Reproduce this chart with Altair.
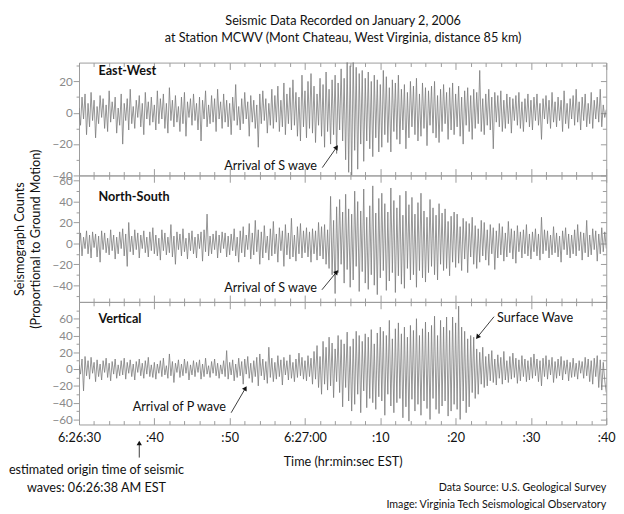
import json
import math
import altair as alt
import pandas as pd

# ---------------- data (0.2 s sampling) ----------------
DT = 0.2
EW = [
    3, -8, 10, -4, 12, -14, 6, -9, 13, -5,
    8, -16, 4, -7, 11, -3, 9, -10, 5, -12,
    14, -6, 7, -4, 10, -13, 3, -8, 12, -20,
    6, -5, 9, -11, 15, -7, 4, -10, 8, -3,
    11, -9, 6, -14, 13, -4, 7, -8, 10, -6,
    5, -11, 14, -7, 9, -4, 12, -10, 6, -13,
    16, -5, 8, -9, 11, -6, 4, -12, 10, -7,
    13, -15, 7, -3, 9, -8, 12, -5, 6, -11,
    10, -18, 8, -4, 14, -9, 5, -7, 11, -6,
    9, -12, 15, -4, 7, -10, 12, -6, 8, -9,
    6, -14, 10, -5, 18, -8, 4, -11, 9, -7,
    13, -4, 7, -15, 11, -6, 8, -10, 5, -22,
    12, -7, 14, -5, 9, -13, 6, -8, 15, -10,
    11, -6, 17, -12, 8, -9, 19, -14, 12, -7,
    16, -11, 21, -8, 13, -15, 10, -18, 24, -9,
    14, -16, 20, -10, 25, -13, 17, -19, 12, -8,
    22, -15, 18, -22, 26, -12, 15, -20, 21, -14,
    24, -26, 19, -11, 28, -18, 22, -30, 33, -38,
    30, -40, 35, -24, 29, -36, 25, -20, 27, -31,
    22, -18, 26, -23, 20, -28, 24, -16, 21, -25,
    18, -22, 27, -14, 23, -19, 16, -25, 21, -12,
    19, -17, 24, -20, 15, -11, 18, -23, 13, -16,
    20, -9, 17, -14, 22, -18, 12, -15, 19, -10,
    16, -21, 14, -8, 17, -13, 20, -16, 11, -19,
    15, -12, 18, -7, 13, -17, 16, -11, 19, -14,
    12, -9, 17, -15, 10, -20, 14, -8, 16, -12,
    11, -17, 15, -10, 13, -7, 27, -12, 9, -14,
    12, -8, 15, -11, 10, -23, 13, -6, 11, -9,
    14, -12, 8, -10, 12, -7, 10, -13, 9, -5,
    11, -8, 13, -10, 7, -12, 9, -6, 12, -9,
    8, -11, 10, -5, 12, -8, 6, -17, 9, -4,
    11, -7, 8, -10, 13, -6, 7, -9, 10, -5,
    8, -12, 14, -7, 6, -10, 9, -4, 11, -8,
    15, -6, 7, -11, 10, -5, 12, -9, 6, -7,
    13, -10, 8, -4, 10, -6, 15, -9, 5, -3,
    2,
]
NS = [
    -8, 10, -12, 6, -5, 12, -10, 8, -14, 11,
    -4, 9, -13, 7, -18, 12, -6, 10, -9, 5,
    -11, 13, -7, 8, -15, 6, -10, 11, -5, 14,
    -12, 9, -22, 20, -8, 7, -11, 13, -6, 10,
    -14, 8, -5, 12, -9, 6, -13, 11, -7, 15,
    -10, 8, -12, 5, -16, 13, -7, 10, -11, 6,
    -9, 18, -13, 7, -20, 11, -6, 9, -12, 14,
    -8, 5, -15, 10, -7, 12, -10, 6, -14, 9,
    -5, 11, -17, 13, -8, 28, -12, 7, -10, 9,
    -6, 12, -14, 8, -9, 11, -5, 10, -13, 7,
    -11, 9, -7, 14, -12, 6, -18, 12, -9, 16,
    -13, 8, -6, 19, -15, 10, -11, 22, -8, 13,
    -20, 11, -14, 17, -9, 7, -16, 14, -12, 21,
    -10, 9, -18, 15, -7, 12, -22, 18, -11, 10,
    -15, 24, -13, 8, -17, 16, -10, 19, -14, 12,
    -9, 15, -13, 11, -18, 14, -10, 12, -16, 20,
    -12, 16, -15, 18, -20, 13, -24, 45, -30, 22,
    -48, 35, -28, 42, -20, 30, -38, 47, -25, 33,
    -42, 28, -35, 50, -22, 40, -46, 31, -27, 52,
    -38, 25, -44, 36, -30, 55, -40, 29, -49, 43,
    -33, 48, -26, 38, -45, 30, -36, 53, -28, 41,
    -47, 34, -31, 46, -39, 27, -43, 50, -24, 37,
    -35, 44, -30, 28, -42, 39, -26, 48, -33, 31,
    -37, 25, -28, 42, -22, 34, -30, 27, -35, 38,
    -20, 29, -26, 33, -24, 21, -31, 26, -18, 30,
    -23, 28, -19, 16, -26, 24, -15, 21, -28, 19,
    -13, 25, -20, 17, -24, 14, -18, 22, -12, 20,
    -16, 13, -21, 18, -10, 15, -25, 12, -14, 19,
    -11, 16, -17, 10, -13, 21, -9, 14, -15, 12,
    -19, 17, -8, 11, -14, 13, -10, 18, -12, 9,
    -15, 11, -8, 14, -12, 9, -16, 25, -10, 13,
    -7, 12, -14, 8, -11, 16, -9, 10, -13, 7,
    -18, 12, -6, 15, -11, 9, -14, 8, -10, 13,
    -12, 18, -7, 11, -16, 10, -9, 22, -13, 8,
    -11, 14, -6, 12, -17, 9, -10, 15, -8, 11,
    -5,
]
VERT = [
    5, -6, 12, -26, 15, -8, 10, -12, 14, -5,
    8, -15, 11, -9, 6, -13, 10, -4, 13, -10,
    7, -14, 9, -6, 12, -11, 5, -8, 10, -7,
    13, -12, 8, -5, 11, -9, 6, -13, 9, -4,
    12, -8, 7, -11, 10, -6, 14, -9, 5, -10,
    8, -12, 6, -5, 10, -9, 13, -7, 4, -11,
    18, -8, 9, -16, 7, -4, 11, -10, 6, -8,
    12, -5, 9, -13, 5, -7, 10, -9, 8, -4,
    11, -12, 6, -9, 13, -6, 4, -10, 9, -5,
    12, -8, 7, -11, 5, -6, 10, -9, 22, -12,
    8, -7, 11, -14, 6, -10, 13, -8, 9, -18,
    12, -6, 15, -11, 7, -16, 10, -9, 14, -20,
    18, -8, 12, -13, 9, -17, 26, -10, 13, -15,
    8, -12, 16, -9, 11, -19, 14, -7, 10, -13,
    17, -11, 8, -15, 12, -10, 19, -8, 14, -12,
    10, -14, 16, -9, 13, -18, 21, -12, 28, -22,
    15, -30, 33, -18, 26, -25, 38, -20, 31, -34,
    24, -15, 40, -28, 35, -45, 30, -22, 44, -38,
    27, -50, 36, -42, 45, -30, 40, -52, 33, -26,
    42, -46, 38, -35, 47, -40, 30, -48, 43, -33,
    50, -38, 45, -55, 40, -30, 58, -44, 36, -52,
    48, -40, 55, -35, 42, -58, 50, -45, 38, -62,
    52, -36, 46, -50, 60, -42, 40, -55, 48, -38,
    56, -47, 44, -60, 52, -35, 63, -48, 40, -53,
    58, -44, 50, -38, 62, -56, 46, -50, 62, -42,
    55, -48, 75, -60, 50, -38, 45, -52, 36, -45,
    40, -28, 38, -35, 24, -30, 20, -18, 26, -22,
    15, -20, 18, -14, 22, -16, 12, -19, 17, -11,
    14, -18, 21, -13, 10, -16, 15, -12, 19, -10,
    13, -17, 11, -14, 16, -9, 12, -15, 10, -13,
    14, -11, 18, -8, 12, -15, 10, -20, 13, -9,
    16, -12, 11, -7, 14, -16, 9, -11, 12, -8,
    15, -13, 10, -6, 11, -14, 8, -10, 13, -9,
    7, -12, 10, -5, 9, -11, 14, -8, 12, -15,
    10, -18, 13, -9, 16, -22, 11, -25, 8, -14,
    -28,
]

TIME_LABELS = ["6:26:30", ":40", ":50", "6:27:00", ":10", ":20", ":30", ":40"]
T_MAX = 70
X_TICKS = list(range(0, T_MAX + 1, 2))

TITLE = ["Seismic Data Recorded on January 2, 2006",
         "at Station MCWV (Mont Chateau, West Virginia, distance 85 km)"]
Y_TITLE = ["Seismograph Counts", "(Proportional to Ground Motion)"]
X_TITLE = "Time (hr:min:sec EST)"

FONT = "Lato"
W = 542
XPX = W / T_MAX
TRACE = "#7a7a7a"
FRAME = "#9a9a9a"


def angle(t1, v1, t2, v2, ypx):
    dx = (t2 - t1) * XPX
    dy = -(v2 - v1) * ypx
    return math.degrees(math.atan2(dx, -dy)) % 360


def panel(vals, domain, height, yticks, name, name_y, texts, arrows,
          last=False, ytitle=None, extra=None):
    df = pd.DataFrame({"t": [round(i * DT, 2) for i in range(len(vals))], "v": vals})
    xs = alt.Scale(domain=[0, T_MAX], nice=False, zero=False)
    ys = alt.Scale(domain=domain, nice=False, zero=False)
    ypx = height / (domain[1] - domain[0])

    if last:
        xaxis = alt.Axis(orient="bottom", values=X_TICKS, domain=False, grid=False,
                         tickColor=FRAME,
                         tickSize={"expr": "datum.value % 10 === 0 ? -7 : -4"},
                         labelExpr="datum.value % 10 === 0 ? " + json.dumps(TIME_LABELS)
                                   + "[datum.value / 10] : ''",
                         labelFlush=False, labelOverlap=False, labelPadding=15,
                         labelFont=FONT, labelFontSize=13, labelColor="#111",
                         title=X_TITLE, titleFont=FONT, titleFontSize=13,
                         titleFontWeight="normal", titleColor="#111", titlePadding=8)
    else:
        xaxis = alt.Axis(orient="bottom", values=X_TICKS, domain=False, grid=False,
                         tickColor=FRAME, labels=False, title=None,
                         tickSize={"expr": "datum.value % 10 === 0 ? -7 : -4"})
    xtop = alt.Axis(orient="top", values=X_TICKS, domain=False, grid=False,
                    tickColor=FRAME, labels=False, title=None,
                    tickSize={"expr": "datum.value % 10 === 0 ? -7 : -4"})
    yleft = alt.Axis(orient="left", values=yticks, domain=False, grid=False,
                     tickColor=FRAME,
                     tickSize={"expr": "datum.value % 20 === 0 ? 6 : 3"},
                     labelExpr="datum.value % 20 === 0 ? datum.label : ''",
                     labelFont=FONT, labelFontSize=12, labelColor="#8a8a8a",
                     labelPadding=1,
                     title=ytitle if ytitle else None,
                     titleFont=FONT, titleFontSize=13, titleFontWeight="normal",
                     titleColor="#111", titlePadding=10, titleLineHeight=16)
    yright = alt.Axis(orient="right", values=yticks, domain=False, grid=False,
                      tickColor=FRAME, labels=False, title=None,
                      tickSize={"expr": "datum.value % 20 === 0 ? -6 : -4"})

    line = alt.Chart(df).mark_line(color=TRACE, strokeWidth=0.8, clip=True).encode(
        x=alt.X("t:Q", scale=xs, axis=xaxis),
        y=alt.Y("v:Q", scale=ys, axis=yleft),
    )
    ghost = alt.Chart(df).mark_line(opacity=0).encode(
        x=alt.X("t:Q", scale=xs, axis=xtop),
        y=alt.Y("v:Q", scale=ys, axis=yright),
    )
    label = alt.Chart(pd.DataFrame({"s": [name]})).mark_text(
        font=FONT, fontSize=13, fontWeight="bold", align="left", baseline="middle",
        color="#111").encode(x=alt.value(20), y=alt.value(name_y), text="s:N")

    layers = [line, ghost, label]

    tdf = pd.DataFrame(texts)
    for al in ["left", "right"]:
        sub = tdf[tdf["align"] == al]
        if len(sub):
            layers.append(alt.Chart(sub).mark_text(
                font=FONT, fontSize=13, align=al, baseline="middle", color="#111").encode(
                x=alt.X("t:Q", scale=xs, axis=None),
                y=alt.Y("v:Q", scale=ys, axis=None),
                text="text:N"))

    adf = pd.DataFrame(arrows)
    adf["ang"] = [angle(r.t, r.v, r.t2, r.v2, ypx) for r in adf.itertuples()]
    layers.append(alt.Chart(adf).mark_rule(color="#222", strokeWidth=0.9).encode(
        x=alt.X("t:Q", scale=xs, axis=None), y=alt.Y("v:Q", scale=ys, axis=None),
        x2="t2:Q", y2="v2:Q"))
    layers.append(alt.Chart(adf).mark_point(shape="triangle-up", filled=True, size=30,
                                            color="#111", opacity=1).encode(
        x=alt.X("t2:Q", scale=xs, axis=None), y=alt.Y("v2:Q", scale=ys, axis=None),
        angle=alt.Angle("ang:Q", scale=None)))

    if extra:
        layers.extend(extra(xs))

    return alt.layer(*layers).resolve_axis(x="independent", y="independent").properties(
        width=W, height=height)


def bottom_notes(xs):
    odf = pd.DataFrame({"t": [8]})
    rule = alt.Chart(odf).mark_rule(color="#222", strokeWidth=0.9).encode(
        x=alt.X("t:Q", scale=xs, axis=None), y=alt.value(160), y2=alt.value(147))
    tip = alt.Chart(odf).mark_point(shape="triangle-up", filled=True, size=30,
                                    color="#111", opacity=1).encode(
        x=alt.X("t:Q", scale=xs, axis=None), y=alt.value(145))
    notes = pd.DataFrame({
        "s": ["estimated origin time of seismic", "waves:  06:26:38 AM EST"],
        "yy": [173, 191]})
    origin_txt = alt.Chart(notes).mark_text(font=FONT, fontSize=13, align="center",
                                            baseline="middle", color="#111").encode(
        x=alt.value(18), y=alt.Y("yy:Q", scale=None, axis=None), text="s:N")
    foot = pd.DataFrame({
        "s": ["Data Source: U.S. Geological Survey",
              "Image: Virginia Tech Seismological Observatory"],
        "yy": [191, 209]})
    foot_txt = alt.Chart(foot).mark_text(font=FONT, fontSize=11, align="right",
                                         baseline="middle", color="#111").encode(
        x=alt.value(W), y=alt.Y("yy:Q", scale=None, axis=None), text="s:N")
    return [rule, tip, origin_txt, foot_txt]


p_ew = panel(EW, [-40, 32], 116, list(range(-40, 31, 10)), "East-West", 9,
             [{"t": 31.6, "v": -34, "text": "Arrival of S wave", "align": "right"}],
             [{"t": 32.3, "v": -35, "t2": 34.2, "v2": -22}])
p_ns = panel(NS, [-56, 65], 130, list(range(-50, 61, 10)), "North-South", 22,
             [{"t": 31.6, "v": -42.8, "text": "Arrival of S wave", "align": "right"}],
             [{"t": 32.25, "v": -44.4, "t2": 34.2, "v2": -27.3}],
             ytitle=Y_TITLE)
p_v = panel(VERT, [-66, 80], 126, list(range(-60, 71, 10)), "Vertical", 18,
            [{"t": 19.5, "v": -45.8, "text": "Arrival of P wave", "align": "right"},
             {"t": 55.5, "v": 60.4, "text": "Surface Wave", "align": "left"}],
            [{"t": 20.2, "v": -52, "t2": 22.1, "v2": -22.7},
             {"t": 55.1, "v": 62.4, "t2": 52.9, "v2": 38.1}],
            last=True, extra=bottom_notes)

chart = alt.vconcat(p_ew, p_ns, p_v, spacing=0, bounds="flush").properties(
    title=alt.TitleParams(TITLE, font=FONT, fontSize=13, fontWeight="normal",
                          color="#111", anchor="middle", offset=13, lineHeight=17,
                          dx=32),
    padding={"left": 0, "top": 0, "right": 0, "bottom": 0},
).configure_view(stroke=FRAME, strokeWidth=1)

chart.save("out.html", embed_options={"renderer": "svg", "actions": False})
